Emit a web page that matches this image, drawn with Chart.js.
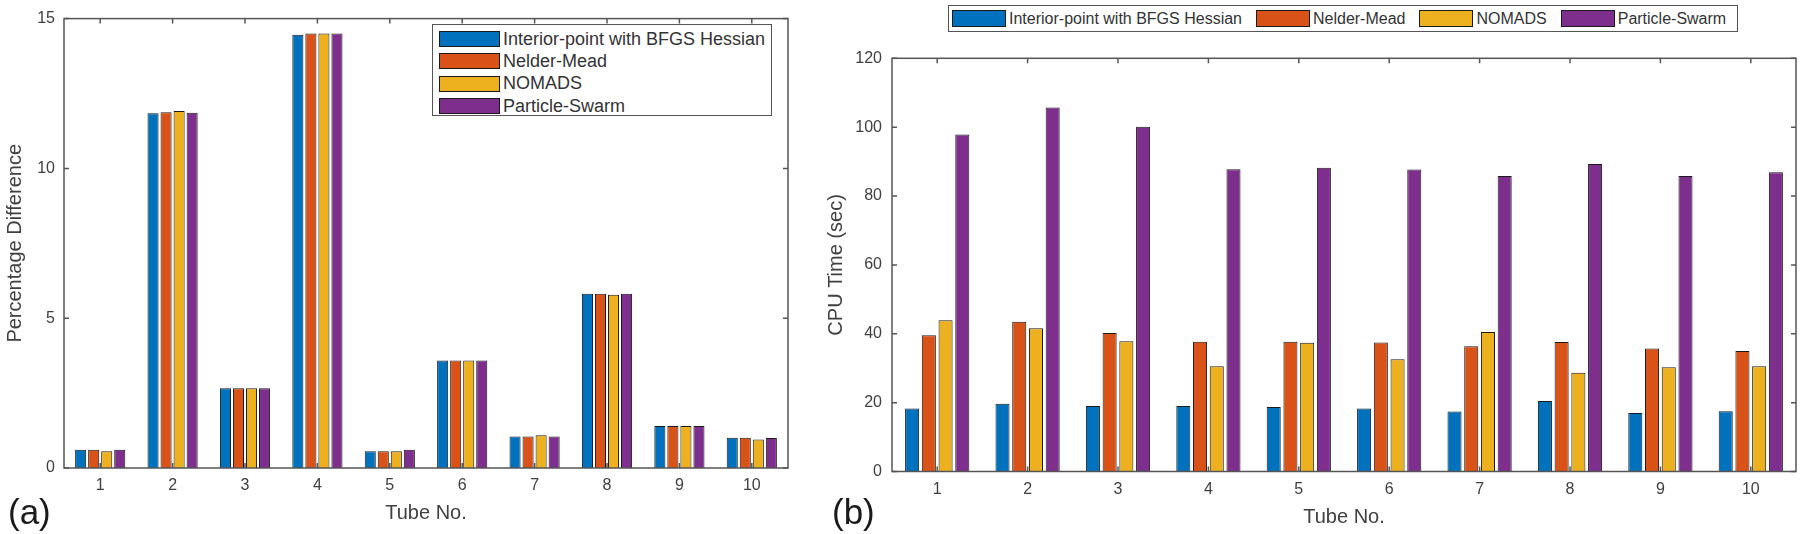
<!DOCTYPE html>
<html>
<head>
<meta charset="utf-8">
<script src="https://cdn.jsdelivr.net/npm/chart.js"></script>
<style>
  body { margin: 0; background: #fff; width: 1800px; height: 534px; overflow: hidden; position: relative; font-family: "Liberation Sans", Arial, sans-serif; }
  canvas { position: absolute; top: 0; }
  #chartA { left: 0; }
  #chartB { left: 800px; }
  .legend { position: absolute; background: #fff; border: 1.5px solid #555; box-sizing: border-box; color: #333; white-space: nowrap; }
  #legA { left: 432px; top: 24px; width: 340px; height: 92px; padding: 3px 0 0 6px; font-size: 18px; }
  #legA .item { height: 22.3px; display: flex; align-items: center; }
  #legA .sw { width: 61px; height: 16px; margin-right: 3px; }
  #legB { left: 948px; top: 5px; width: 790px; height: 27px; padding: 0 0 0 3px; font-size: 16px; display: flex; align-items: center; }
  #legB .item { display: flex; align-items: center; margin-right: 14px; flex-shrink: 0; }
  #legB .sw { width: 54px; height: 17px; margin-right: 3px; }
  .sw { border: 1px solid #1a1a1a; box-sizing: border-box; flex-shrink: 0; }
  .tag { position: absolute; top: 494px; font-size: 35px; line-height: 1; color: #1a1a1a; }
</style>
</head>
<body>
<canvas id="chartA" width="800" height="534"></canvas>
<canvas id="chartB" width="1000" height="534"></canvas>
<div class="legend" id="legA"></div>
<div class="legend" id="legB"></div>
<div class="tag" style="left:8px">(a)</div>
<div class="tag" style="left:832px">(b)</div>
<script>
var tubes = ['1', '2', '3', '4', '5', '6', '7', '8', '9', '10'];
var methods = ['Interior-point with BFGS Hessian', 'Nelder-Mead', 'NOMADS', 'Particle-Swarm'];
var colors = ['#0072BD', '#D95319', '#EDB120', '#7E2F8E'];

// (a) percentage difference
var pctInterior = [0.61, 11.84, 2.66, 14.46, 0.56, 3.59, 1.05, 5.82, 1.40, 1.01];
var pctNelder   = [0.61, 11.87, 2.66, 14.50, 0.56, 3.59, 1.05, 5.82, 1.40, 1.01];
var pctNomads   = [0.56, 11.92, 2.66, 14.50, 0.56, 3.59, 1.09, 5.78, 1.40, 0.95];
var pctSwarm    = [0.61, 11.86, 2.66, 14.50, 0.61, 3.59, 1.05, 5.82, 1.40, 1.00];

// (b) cpu time
var cpuInterior = [18.3, 19.7, 19.0, 19.0, 18.7, 18.3, 17.4, 20.5, 17.0, 17.5];
var cpuNelder   = [39.6, 43.5, 40.2, 37.7, 37.7, 37.5, 36.4, 37.6, 35.7, 35.0];
var cpuNomads   = [43.9, 41.6, 37.8, 30.6, 37.4, 32.6, 40.5, 28.7, 30.3, 30.6];
var cpuSwarm    = [97.9, 105.7, 100.1, 87.8, 88.2, 87.7, 85.8, 89.3, 85.8, 86.9];

var fontFam = '"Liberation Sans", Arial, sans-serif';
var txtColor = '#404040';

// matlab style frame with ticks pointing inward
var boxPlugin = {
	id: 'matlabBox',
	afterDatasetsDraw: function(chart) {
		var a = chart.chartArea, ctx = chart.ctx;
		var xs = chart.scales.x, ys = chart.scales.y;
		ctx.save();
		ctx.strokeStyle = '#555';
		ctx.lineWidth = 1.5;
		ctx.strokeRect(a.left, a.top, a.right - a.left, a.bottom - a.top);
		ctx.beginPath();
		xs.ticks.forEach(function(t, i) {
			var x = xs.getPixelForTick(i);
			ctx.moveTo(x, a.bottom); ctx.lineTo(x, a.bottom - 5);
			ctx.moveTo(x, a.top); ctx.lineTo(x, a.top + 5);
		});
		ys.ticks.forEach(function(t, i) {
			var y = ys.getPixelForTick(i);
			ctx.moveTo(a.left, y); ctx.lineTo(a.left + 5, y);
			ctx.moveTo(a.right, y); ctx.lineTo(a.right - 5, y);
		});
		ctx.stroke();
		ctx.restore();
	}
};

function makeSets(series, catPct, barPct) {
	return series.map(function(d, i) {
		return {
			label: methods[i],
			data: d,
			backgroundColor: colors[i],
			borderColor: '#1a1a1a',
			borderWidth: 1,
			categoryPercentage: catPct,
			barPercentage: barPct
		};
	});
}

function makeChart(id, sets, yMax, yStep, yTitle, o) {
	return new Chart(document.getElementById(id).getContext('2d'), {
		type: 'bar',
		data: { labels: tubes, datasets: sets },
		plugins: [boxPlugin],
		options: {
			responsive: false,
			animation: false,
			layout: { padding: o.pad },
			plugins: { legend: { display: false }, tooltip: { enabled: false } },
			scales: {
				x: {
					grid: { display: false, drawTicks: false },
					border: { display: false },
					ticks: { color: txtColor, font: { family: fontFam, size: 16 }, padding: 8, maxRotation: 0 },
					title: { display: true, text: 'Tube No.', color: txtColor, font: { family: fontFam, size: 20 }, padding: { top: 0, bottom: o.xTitlePad } },
					afterFit: function(s) { s.height = o.xH; }
				},
				y: {
					min: 0, max: yMax,
					grid: { display: false, drawTicks: false },
					border: { display: false },
					ticks: { stepSize: yStep, color: txtColor, font: { family: fontFam, size: 16 }, padding: o.yTickPad },
					title: { display: true, text: yTitle, color: txtColor, font: { family: fontFam, size: 20 }, padding: { top: o.yTitlePad, bottom: 0 } },
					afterFit: function(s) { s.width = o.yW; }
				}
			}
		}
	});
}

makeChart('chartA', makeSets([pctInterior, pctNelder, pctNomads, pctSwarm], 0.72, 0.85), 15, 5, 'Percentage Difference',
	{ pad: { top: 9.5, right: 12, bottom: 0, left: 0 }, xH: 66, yW: 64, xTitlePad: 9, yTitlePad: 3, yTickPad: 9 });

makeChart('chartB', makeSets([cpuInterior, cpuNelder, cpuNomads, cpuSwarm], 0.74, 0.84), 120, 20, 'CPU Time (sec)',
	{ pad: { top: 58.3, right: 4, bottom: 0, left: 0 }, xH: 62.5, yW: 92, xTitlePad: 5, yTitlePad: 24, yTickPad: 10 });

// legends
function fillLegend(id) {
	var box = document.getElementById(id);
	methods.forEach(function(m, i) {
		var it = document.createElement('div');
		it.className = 'item';
		var sw = document.createElement('div');
		sw.className = 'sw';
		sw.style.background = colors[i];
		var tx = document.createElement('span');
		tx.textContent = m;
		it.appendChild(sw);
		it.appendChild(tx);
		box.appendChild(it);
	});
}
fillLegend('legA');
fillLegend('legB');
</script>
</body>
</html>
